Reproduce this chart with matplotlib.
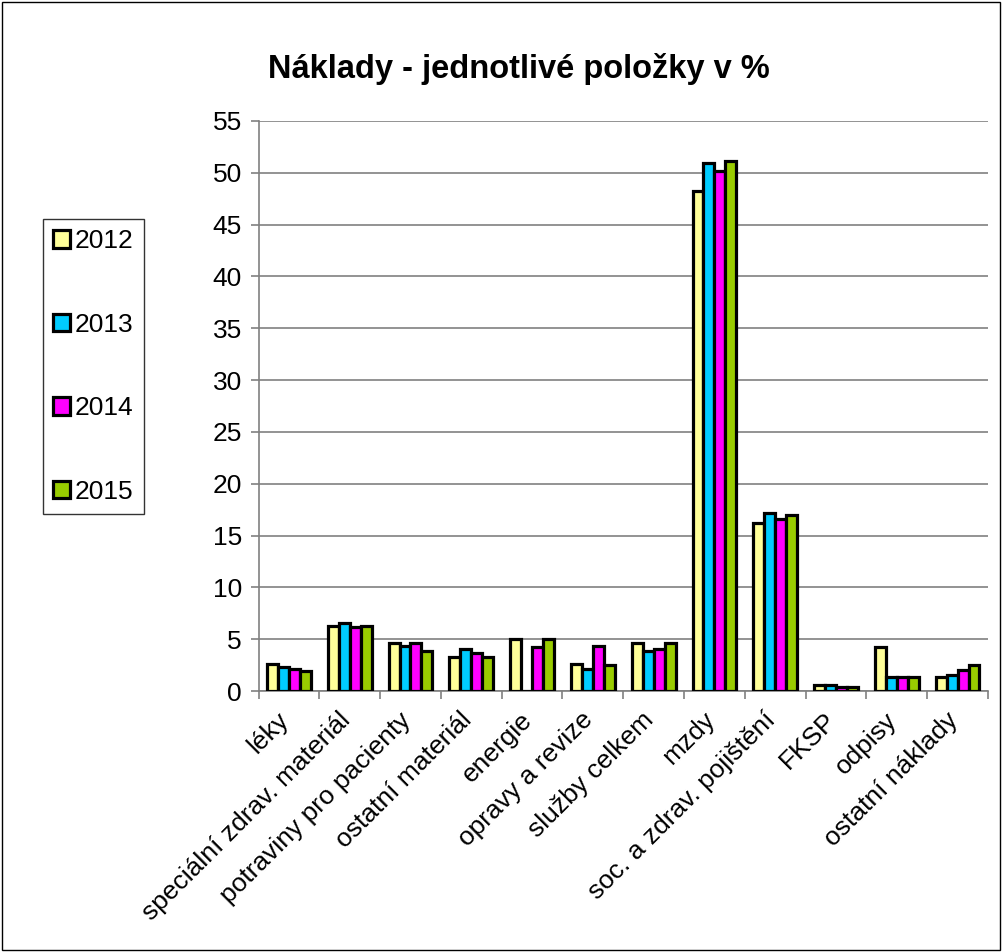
import numpy as np
import matplotlib.pyplot as plt
import matplotlib.transforms as mtransforms
from matplotlib.patches import Rectangle

plt.rcParams['font.family'] = ['Liberation Sans', 'DejaVu Sans']

categories = ["léky", "speciální zdrav. materiál", "potraviny pro pacienty",
              "ostatní materiál", "energie", "opravy a revize", "služby celkem",
              "mzdy", "soc. a zdrav. pojištění", "FKSP", "odpisy", "ostatní náklady"]
years = ["2012", "2013", "2014", "2015"]
v2012 = [2.65, 6.3, 4.6, 3.25, 5.0, 2.65, 4.6, 48.25, 16.2, 0.62, 4.25, 1.4]
v2013 = [2.35, 6.55, 4.4, 4.05, 0.0, 2.15, 3.85, 50.95, 17.15, 0.62, 1.35, 1.6]
v2014 = [2.15, 6.15, 4.6, 3.65, 4.25, 4.4, 4.05, 50.15, 16.6, 0.36, 1.35, 2.0]
v2015 = [1.9, 6.3, 3.85, 3.25, 5.0, 2.5, 4.6, 51.15, 17.0, 0.36, 1.35, 2.5]
colors = ["#FFFF99", "#00CCFF", "#FF00FF", "#99CC00"]

fig = plt.figure(figsize=(10.02, 9.52), dpi=100)
ax = fig.add_axes([0.258, 0.274, 0.728, 0.599])

x = np.arange(len(categories))
w = 0.18
series = [v2012, v2013, v2014, v2015]
for i, (vals, c, y) in enumerate(zip(series, colors, years)):
    ax.bar(x + (i - 1.5) * w, vals, w, color=c, edgecolor='black', linewidth=2.3, label=y, zorder=3)

ax.set_xlim(-0.5, len(categories) - 0.5)
ax.set_ylim(0, 55)
ax.set_yticks(range(0, 56, 5))
ax.yaxis.grid(True, color='#808080', linewidth=1.2, zorder=0)
ax.set_xticks(x)
ax.set_xticklabels(categories, rotation=45, ha='right', rotation_mode='anchor', fontsize=19)
ax.tick_params(axis='x', length=0, pad=12)
shift = mtransforms.ScaledTranslation(-12 / 100, 0, fig.dpi_scale_trans)
for lbl in ax.get_xticklabels():
    lbl.set_transform(lbl.get_transform() + shift)
ax.set_xticks(np.arange(-0.5, len(categories)), minor=True)
ax.tick_params(axis='x', which='minor', length=6, color='#808080', width=1.2)
ax.tick_params(axis='y', labelsize=19, length=6, color='#808080', width=1.2, pad=6)
for s in ['top', 'right']:
    ax.spines[s].set_visible(False)
ax.spines['left'].set_color('#808080')
ax.spines['bottom'].set_color('#808080')
ax.spines['left'].set_linewidth(1.2)
ax.spines['bottom'].set_linewidth(1.2)

fig.text(0.518, 0.927, "Náklady - jednotlivé položky v %", ha='center', va='center',
         fontsize=23.5, fontweight='bold')

leg = fig.legend(loc='center', bbox_to_anchor=(0.093, 0.615), fontsize=19, frameon=True,
                 fancybox=False, edgecolor='black', labelspacing=2.25, handlelength=0.65,
                 handleheight=0.65, handletextpad=0.15, borderpad=0.4, borderaxespad=0)
leg.get_frame().set_linewidth(1)

fig.patches.append(Rectangle((0.002, 0.002), 0.996, 0.996, transform=fig.transFigure,
                             fill=False, edgecolor='black', linewidth=1))

fig.savefig("out.png", dpi=100)
